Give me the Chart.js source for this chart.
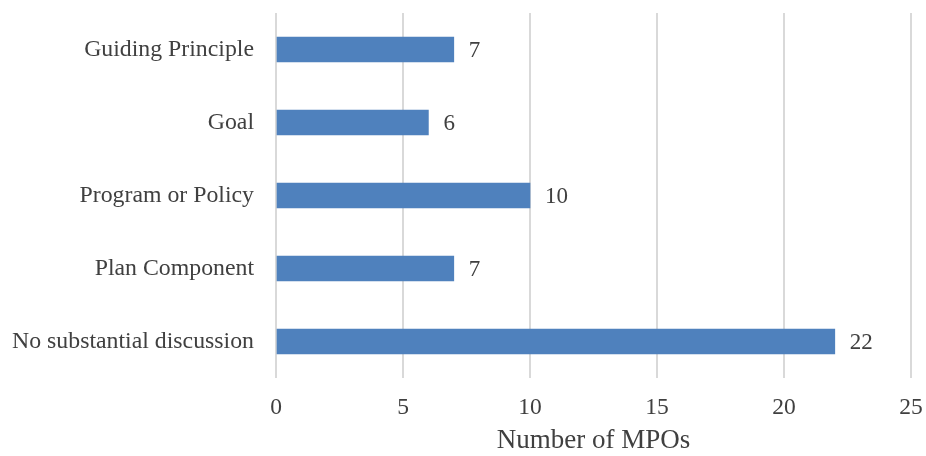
<!DOCTYPE html>
<html>
<head>
<meta charset="utf-8">
<script src="https://cdn.jsdelivr.net/npm/chart.js@4/dist/chart.umd.min.js"></script>
<style>
  html, body { margin: 0; padding: 0; background: #fff; }
  #wrap { width: 926px; height: 456px; }
</style>
</head>
<body>
<div id="wrap"><canvas id="barChart" width="926" height="456"></canvas></div>
<script>
var categories = [
  "Guiding Principle",
  "Goal",
  "Program or Policy",
  "Plan Component",
  "No substantial discussion"
];
var mpoCounts = [7, 6, 10, 7, 22];
var xTicks = [0, 5, 10, 15, 20, 25];

var textColor = "#404040";
var serif = "'Liberation Serif', 'Times New Roman', serif";

// writes the count just past the end of each bar
var valueLabels = {
  id: "valueLabels",
  afterDatasetsDraw: function (chart) {
    var ctx = chart.ctx;
    var meta = chart.getDatasetMeta(0);
    var xScale = chart.scales.x;
    ctx.save();
    ctx.font = "23px " + serif;
    ctx.fillStyle = textColor;
    ctx.textAlign = "left";
    ctx.textBaseline = "middle";
    meta.data.forEach(function (bar, i) {
      var v = chart.data.datasets[0].data[i];
      ctx.fillText(String(v), xScale.getPixelForValue(v) + 15, bar.y + 1);
    });
    ctx.restore();
  }
};

var ctx = document.getElementById("barChart").getContext("2d");
var barChart = new Chart(ctx, {
  type: "bar",
  data: {
    labels: categories,
    datasets: [
      {
        label: "Number of MPOs",
        data: mpoCounts,
        backgroundColor: "#4F81BD",
        borderWidth: 0,
        barThickness: 25
      }
    ]
  },
  options: {
    indexAxis: "y",
    responsive: false,
    animation: false,
    layout: { padding: { top: 13, right: 15, left: 0, bottom: 0 } },
    plugins: {
      legend: { display: false },
      tooltip: { enabled: false }
    },
    scales: {
      x: {
        min: 0,
        max: 25,
        afterBuildTicks: function (scale) {
          scale.ticks = xTicks.map(function (v) { return { value: v }; });
        },
        afterFit: function (scale) {
          scale.height = 78;
          scale.paddingLeft = 0;
          scale.paddingRight = 0;
        },
        grid: { color: "#d9d9d9", lineWidth: 2, drawTicks: false },
        border: { display: false },
        ticks: {
          padding: 16,
          color: textColor,
          font: { family: serif, size: 23.5 }
        },
        title: {
          display: true,
          text: "Number of MPOs",
          color: textColor,
          font: { family: serif, size: 27, lineHeight: 1.1 },
          padding: { top: 0, bottom: 0 }
        }
      },
      y: {
        afterFit: function (scale) {
          scale.width = 276;
          scale.paddingTop = 0;
          scale.paddingBottom = 0;
        },
        grid: { display: false, drawTicks: false },
        border: { display: false },
        ticks: {
          padding: 22,
          color: textColor,
          font: { family: serif, size: 23.8 }
        }
      }
    }
  },
  plugins: [valueLabels]
});
</script>
</body>
</html>
